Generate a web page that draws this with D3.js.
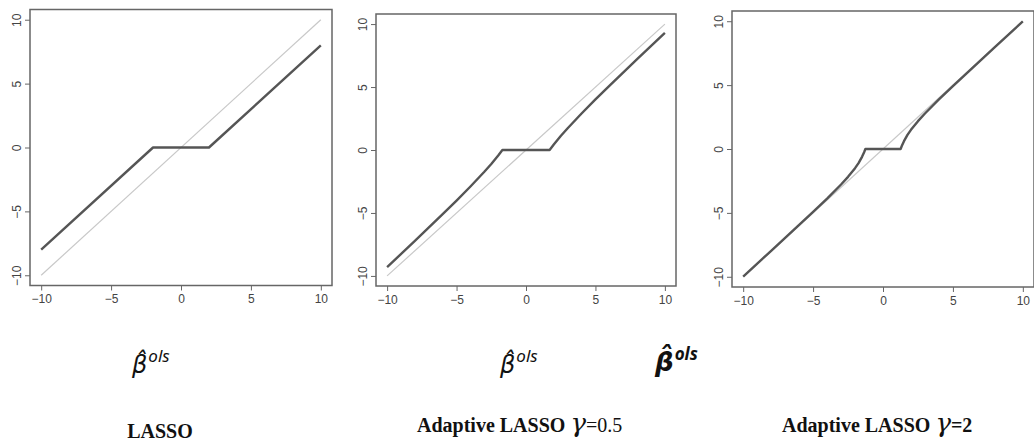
<!DOCTYPE html>
<html>
<head>
  <meta charset="utf-8">
  <title>LASSO vs Adaptive LASSO</title>
  <script src="https://cdn.jsdelivr.net/npm/d3@7"></script>
  <style>
    body { margin: 0; background: #fff; }
    .tick text { font: 12px "Liberation Sans", sans-serif; fill: #444; }
    .tick line { stroke: #666; }
    .cap { font-family: "Liberation Serif", serif; font-weight: bold; font-size: 20px; fill: #111; }
  </style>
</head>
<body>
<svg id="chart" width="1034" height="441"></svg>
<script>
  // data
  var ticks = [-10, -5, 0, 5, 10];
  var identX = [-10, 10], identY = [-10, 10];
  var lassoX = [-10, -2, 2, 10];
  var lassoY = [-8, 0, 0, 8];
  var ada05X = [-10, -8, -6, -5, -4, -3, -2.5, -2, -1.7, 1.7, 2, 2.5, 3, 4, 5, 6, 8, 10];
  var ada05Y = [-9.30, -7.22, -5.10, -4.02, -2.90, -1.73, -1.11, -0.44, 0, 0, 0.44, 1.11, 1.73, 2.90, 4.02, 5.10, 7.22, 9.30];
  var ada2X = [-10, -8, -6, -5, -4, -3, -2.5, -2, -1.75, -1.5, -1.35, -1.26, 1.26, 1.35, 1.5, 1.75, 2, 2.5, 3, 4, 5, 6, 8, 10];
  var ada2Y = [-9.98, -7.97, -5.94, -4.92, -3.88, -2.78, -2.18, -1.5, -1.10, -0.61, -0.25, 0, 0, 0.25, 0.61, 1.10, 1.5, 2.18, 2.78, 3.88, 4.92, 5.94, 7.97, 9.98];

  var panels = [
    {x: lassoX, y: lassoY, box: [30, 332, 9.5, 285.5]},
    {x: ada05X, y: ada05Y, box: [376, 676, 14, 286]},
    {x: ada2X, y: ada2Y, box: [732, 1034, 11, 287]}
  ];

  var svg = d3.select("#chart");

  panels.forEach(function(p) {
    var b = p.box;
    var x = d3.scaleLinear().domain([-10.8, 10.8]).range([b[0], b[1]]);
    var y = d3.scaleLinear().domain([-10.8, 10.8]).range([b[3], b[2]]);
    var g = svg.append("g");

    var line = d3.line()
      .x(function(d) { return x(d[0]); })
      .y(function(d) { return y(d[1]); });

    // 45 degree reference line
    g.append("path")
      .attr("d", line(d3.zip(identX, identY)))
      .attr("fill", "none")
      .attr("stroke", "#c8c8c8")
      .attr("stroke-width", 1.2);

    g.append("path")
      .attr("d", line(d3.zip(p.x, p.y)))
      .attr("fill", "none")
      .attr("stroke", "#555")
      .attr("stroke-width", 2.4)
      .attr("stroke-linejoin", "round");

    g.append("rect")
      .attr("x", b[0]).attr("y", b[2])
      .attr("width", b[1] - b[0]).attr("height", b[3] - b[2])
      .attr("fill", "none")
      .attr("stroke", "#666")
      .attr("stroke-width", 1.5);

    g.append("g")
      .attr("transform", "translate(0," + b[3] + ")")
      .call(d3.axisBottom(x).tickValues(ticks).tickSize(5).tickPadding(4).tickFormat(d3.format("d")))
      .call(function(a) { a.select(".domain").remove(); });

    g.append("g")
      .attr("transform", "translate(" + b[0] + ",0)")
      .call(d3.axisLeft(y).tickValues(ticks).tickSize(5).tickFormat(d3.format("d")))
      .call(function(a) {
        a.select(".domain").remove();
        a.selectAll(".tick text")
          .attr("transform", "rotate(-90)")
          .attr("text-anchor", "middle")
          .attr("x", 0).attr("y", -9).attr("dy", 0);
      });
  });

  // beta-hat labels, hat as a combining mark on the beta
  var betas = [
    {x: 132, y: 373, bold: false},
    {x: 500, y: 373, bold: false},
    {x: 655, y: 371, bold: true}
  ];
  betas.forEach(function(d) {
    var t = svg.append("text")
      .attr("x", d.x).attr("y", d.y)
      .style("font-family", "'DejaVu Sans', sans-serif")
      .style("font-style", "italic")
      .style("font-weight", d.bold ? "bold" : "normal")
      .attr("fill", "#111");
    t.append("tspan").style("font-size", d.bold ? "26px" : "24px").text("\u03b2\u0302");
    t.append("tspan").attr("dy", -11).attr("dx", 1)
      .style("font-family", "'Noto Sans', sans-serif")
      .style("font-size", "17px").text("ols");
  });

  // captions
  svg.append("text").attr("class", "cap").attr("x", 160).attr("y", 438)
    .attr("text-anchor", "middle").text("LASSO");

  var caps = [{x: 417, g: "0.5"}, {x: 782, g: "2"}];
  caps.forEach(function(c) {
    var t = svg.append("text").attr("class", "cap").attr("x", c.x).attr("y", 432);
    t.append("tspan").text("Adaptive LASSO ");
    t.append("tspan").style("font-family", "'DejaVu Serif', serif").style("font-style", "italic")
      .style("font-weight", "normal").style("font-size", "26px").text("\u03b3");
    t.append("tspan").style("font-weight", c.g === "2" ? "bold" : "normal").text("=" + c.g);
  });
</script>
</body>
</html>
